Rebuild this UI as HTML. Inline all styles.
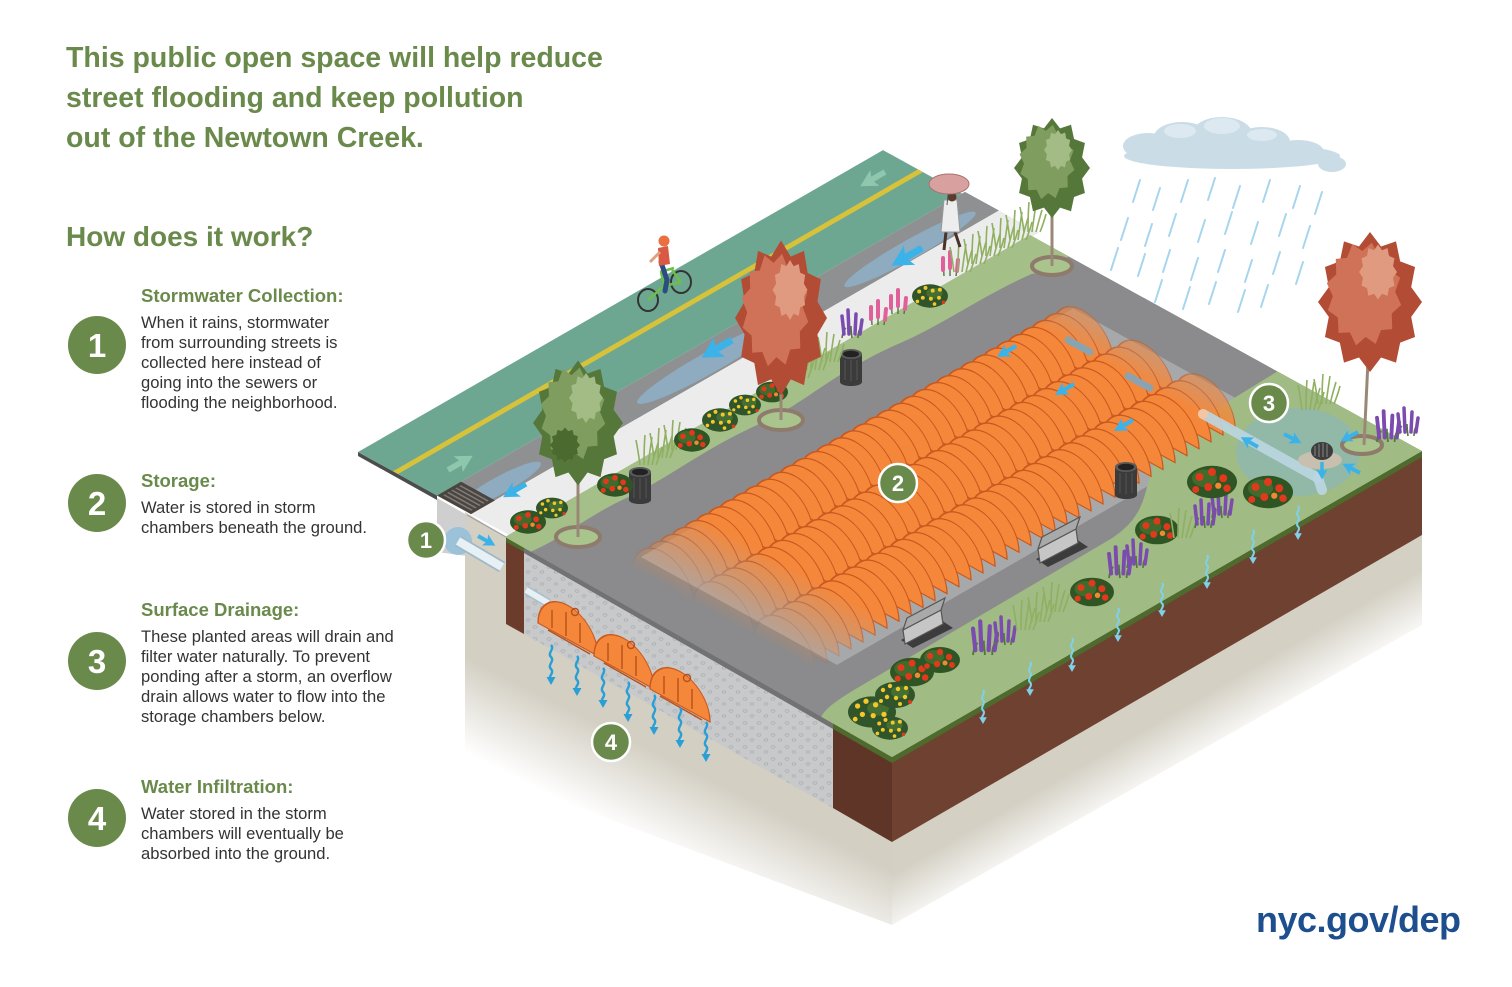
<!DOCTYPE html>
<html><head><meta charset="utf-8"><style>html,body{margin:0;padding:0;background:#fff}svg{display:block}</style></head>
<body>
<svg xmlns="http://www.w3.org/2000/svg" width="1512" height="987" viewBox="0 0 1512 987" font-family="'Liberation Sans', Arial, sans-serif">
<defs>
<linearGradient id="gl" gradientUnits="userSpaceOnUse" x1="680" y1="720" x2="600" y2="880"><stop offset="0" stop-color="#d3cfc3"/><stop offset="0.22" stop-color="#d3cfc3"/><stop offset="0.7" stop-color="#fff"/></linearGradient>
<linearGradient id="gf" gradientUnits="userSpaceOnUse" x1="1150" y1="690" x2="1195" y2="768"><stop offset="0" stop-color="#d4d0c4"/><stop offset="0.35" stop-color="#d4d0c4"/><stop offset="1" stop-color="#fff"/></linearGradient>
<linearGradient id="chg" gradientUnits="userSpaceOnUse" x1="388" y1="434.75" x2="606.6" y2="37.4"><stop offset="0" stop-color="#000"/><stop offset="0.174" stop-color="#fff"/><stop offset="0.9" stop-color="#fff"/><stop offset="1" stop-color="#5a5a5a"/></linearGradient>
<mask id="chm" maskUnits="userSpaceOnUse" x="0" y="0" width="1512" height="987"><rect width="1512" height="987" fill="url(#chg)"/></mask>
<clipPath id="blk"><polygon points="505,537 1030,235 1422,451 892,757"/></clipPath>
<pattern id="grv" width="14" height="12" patternUnits="userSpaceOnUse"><rect width="14" height="12" fill="#c8c9cb"/><ellipse cx="3" cy="3" rx="2" ry="1.3" fill="none" stroke="#b0b1b3" stroke-width=".8"/><ellipse cx="10" cy="8" rx="1.8" ry="1.2" fill="none" stroke="#b0b1b3" stroke-width=".8"/></pattern>
<path id="rib" d="M0,0 A30,34 0 0 1 60,0 Z" transform="matrix(1,0.55,0,1,0,0)" fill="#f5873a" stroke="#c9581f" stroke-width="1.3"/>
<path id="cn" d="M0,-50 L10.6,-39.6 L25,-43.3 L29,-29 L43.3,-25 L39.6,-10.6 L50,0 L39.6,10.6 L43.3,25 L29,29 L25,43.3 L10.6,39.6 L0,50 L-10.6,39.6 L-25,43.3 L-29,29 L-43.3,25 L-39.6,10.6 L-50,0 L-39.6,-10.6 L-43.3,-25 L-29,-29 L-25,-43.3 L-10.6,-39.6 Z"/>
<path id="ar" d="M0,-2.2 L11,-2.2 L9,-7 L22,0 L9,7 L11,2.2 L0,2.2 Z"/>
<g id="wv"><path d="M0,0 c4,4 -4,8 0,12 s-4,8 0,12 s-4,8 0,10" fill="none" stroke="currentColor" stroke-width="2.4"/><path d="M-4.5,32 L4.5,32 L0,40 Z" fill="currentColor"/></g>
<g id="rb"><ellipse rx="20" ry="13" fill="#2e5523"/><ellipse cx="-6" cy="-3" rx="10" ry="7" fill="#3f6b2c"/><circle cx="-10" cy="-4" r="3.2" fill="#e0391c"/><circle cx="0" cy="-8" r="3.2" fill="#e0391c"/><circle cx="9" cy="-3" r="3.2" fill="#e0391c"/><circle cx="-3" cy="4" r="3.2" fill="#e0391c"/><circle cx="12" cy="5" r="3" fill="#e0391c"/><circle cx="-13" cy="6" r="2.8" fill="#e0391c"/><circle cx="5" cy="3" r="2.5" fill="#f08a30"/></g>
<g id="yb"><ellipse rx="20" ry="13" fill="#30552a"/><ellipse cx="5" cy="-3" rx="9" ry="6" fill="#456f32"/><circle cx="-12" cy="-5" r="2.2" fill="#f4c82a"/><circle cx="-5" cy="-9" r="2.2" fill="#f4c82a"/><circle cx="3" cy="-6" r="2.2" fill="#f4c82a"/><circle cx="11" cy="-7" r="2.2" fill="#f4c82a"/><circle cx="-8" cy="2" r="2.2" fill="#f4c82a"/><circle cx="1" cy="3" r="2.2" fill="#f4c82a"/><circle cx="10" cy="2" r="2.2" fill="#f4c82a"/><circle cx="-14" cy="6" r="2" fill="#f4c82a"/><circle cx="5" cy="9" r="2" fill="#f4c82a"/><circle cx="15" cy="7" r="2" fill="#e0391c"/></g>
<g id="pp"><path d="M-10,0 Q-9,-8 -6,-10 M0,0 Q-1,-8 -1,-12 M6,0 Q6,-6 8,-9" stroke="#4f7a35" stroke-width="1.6" fill="none"/><path d="M-8,-4 L-10,-22 M-3,-4 L-4,-28 M3,-4 L4,-24 M8,-4 L10,-18" stroke="#7b4bb0" stroke-width="3.5" stroke-linecap="round"/></g>
<g id="pk"><path d="M-6,0 L-7,-18 M0,0 L0,-24 M6,0 L8,-16" stroke="#4f7a35" stroke-width="1.4"/><path d="M-7,-6 L-7,-18 M0,-8 L0,-24 M7,-5 L8,-16" stroke="#e0609a" stroke-width="4" stroke-linecap="round"/></g>
<g id="gr"><path d="M-8,0 Q-10,-15 -12,-25 M-4,0 Q-4,-18 -3,-30 M0,0 Q2,-15 4,-28 M4,0 Q7,-12 10,-22 M8,0 Q12,-10 14,-18" stroke="#8fb060" stroke-width="1.6" fill="none"/></g>
<g id="tc"><rect x="-11" y="-14" width="22" height="28" fill="#3b3b3b"/><ellipse cx="0" cy="14" rx="11" ry="4" fill="#3b3b3b"/><ellipse cx="0" cy="-14" rx="11" ry="5" fill="#5a5a5a"/><ellipse cx="0" cy="-14" rx="8" ry="3.3" fill="#222"/><path d="M-6,-8 V12 M0,-8 V13 M6,-8 V12" stroke="#555" stroke-width="1"/></g>
<g id="bn"><polygon points="-22,14 18,-6 30,2 -10,22" fill="#3c3c3c"/><polygon points="-20,4 18,-16 20,-2 -18,18" fill="#c6c6c6" stroke="#555" stroke-width="1.2"/><polygon points="-20,4 18,-16 22,-28 -16,-8" fill="#a9a9a9" stroke="#555" stroke-width="1.2"/></g>
<g id="row">
<use href="#rib" x="450" y="-258.75"/><use href="#rib" x="438" y="-251.85"/><use href="#rib" x="426" y="-244.95"/><use href="#rib" x="414" y="-238.05"/><use href="#rib" x="402" y="-231.15"/><use href="#rib" x="390" y="-224.25"/><use href="#rib" x="378" y="-217.35"/><use href="#rib" x="366" y="-210.45"/><use href="#rib" x="354" y="-203.55"/><use href="#rib" x="342" y="-196.65"/><use href="#rib" x="330" y="-189.75"/><use href="#rib" x="318" y="-182.85"/><use href="#rib" x="306" y="-175.95"/><use href="#rib" x="294" y="-169.05"/><use href="#rib" x="282" y="-162.15"/><use href="#rib" x="270" y="-155.25"/><use href="#rib" x="258" y="-148.35"/><use href="#rib" x="246" y="-141.45"/><use href="#rib" x="234" y="-134.55"/><use href="#rib" x="222" y="-127.65"/><use href="#rib" x="210" y="-120.75"/><use href="#rib" x="198" y="-113.85"/><use href="#rib" x="186" y="-106.95"/><use href="#rib" x="174" y="-100.05"/><use href="#rib" x="162" y="-93.15"/><use href="#rib" x="150" y="-86.25"/><use href="#rib" x="138" y="-79.35"/><use href="#rib" x="126" y="-72.45"/><use href="#rib" x="114" y="-65.55"/><use href="#rib" x="102" y="-58.65"/><use href="#rib" x="90" y="-51.75"/><use href="#rib" x="78" y="-44.85"/><use href="#rib" x="66" y="-37.95"/><use href="#rib" x="54" y="-31.05"/><use href="#rib" x="42" y="-24.15"/><use href="#rib" x="30" y="-17.25"/>
</g>
</defs>

<rect width="1512" height="987" fill="#fff"/>

<!-- LEFT TEXT -->
<g fill="#6a8a4c" font-weight="bold">
<text x="66" y="67" font-size="28.5">This public open space will help reduce</text>
<text x="66" y="107" font-size="28.5">street flooding and keep pollution</text>
<text x="66" y="147" font-size="28.5">out of the Newtown Creek.</text>
<text x="66" y="246" font-size="28">How does it work?</text>
<text x="141" y="302" font-size="18.5">Stormwater Collection:</text>
<text x="141" y="487" font-size="18.5">Storage:</text>
<text x="141" y="616" font-size="18.5">Surface Drainage:</text>
<text x="141" y="793" font-size="18.5">Water Infiltration:</text>
</g>
<g fill="#333" font-size="16.6">
<text x="141" y="328">When it rains, stormwater</text>
<text x="141" y="348">from surrounding streets is</text>
<text x="141" y="368">collected here instead of</text>
<text x="141" y="388">going into the sewers or</text>
<text x="141" y="408">flooding the neighborhood.</text>
<text x="141" y="513">Water is stored in storm</text>
<text x="141" y="533">chambers beneath the ground.</text>
<text x="141" y="642">These planted areas will drain and</text>
<text x="141" y="662">filter water naturally. To prevent</text>
<text x="141" y="682">ponding after a storm, an overflow</text>
<text x="141" y="702">drain allows water to flow into the</text>
<text x="141" y="722">storage chambers below.</text>
<text x="141" y="819">Water stored in the storm</text>
<text x="141" y="839">chambers will eventually be</text>
<text x="141" y="859">absorbed into the ground.</text>
</g>
<g fill="#6a8a4c"><circle cx="97" cy="345" r="29"/><circle cx="97" cy="503" r="29"/><circle cx="97" cy="661" r="29"/><circle cx="97" cy="818" r="29"/></g>
<g fill="#fff" font-size="33" font-weight="bold" text-anchor="middle">
<text x="97" y="357">1</text><text x="97" y="515">2</text><text x="97" y="673">3</text><text x="97" y="830">4</text>
</g>

<!-- VERTICAL FACES -->
<polygon points="465,512 506,537 892,757 892,925 465,765" fill="url(#gl)"/>
<polygon points="892,842 1422,535 1422,625 892,925" fill="url(#gf)"/>
<polygon points="437,498 467,515 467,556 437,552" fill="#cfcfd0"/>
<polygon points="358,452 437,495.5 437,500 358,456" fill="#4b4d4c"/>
<circle cx="458" cy="541" r="14" fill="#9cc2da"/>
<line x1="458" y1="541" x2="502" y2="567" stroke="#9fb8c6" stroke-width="12"/>
<line x1="458" y1="541" x2="502" y2="567" stroke="#e6f0f5" stroke-width="8.5"/>
<polygon points="506,541 524,551 524,634 506,624" fill="#6b3b2b"/>
<polygon points="506,537 524,547 524,552 506,542" fill="#4e6a2c"/>
<polygon points="524,552 833,728 833,808 524,634" fill="url(#grv)"/>
<polygon points="524,547 833,723 833,729 524,553" fill="#727274"/>
<polygon points="833,728 892,762 892,842 833,808" fill="#5f3527"/>
<polygon points="833,723 892,757 892,763 833,729" fill="#4e6a2c"/>
<polygon points="892,762 1422,456 1422,535 892,842" fill="#6f4131"/>
<polygon points="892,757 1422,451 1422,457 892,763" fill="#4e6a2c"/>
<line x1="526" y1="590" x2="548" y2="603" stroke="#a9bfcc" stroke-width="9"/>
<line x1="526" y1="590" x2="548" y2="603" stroke="#e6f0f5" stroke-width="6"/>
<!-- cross-section chambers -->
<use href="#rib" x="538" y="623"/><use href="#rib" x="594" y="656"/><use href="#rib" x="650" y="689"/>
<g stroke="#b84f18" stroke-width="1.4" fill="none">
<path d="M552,628 v-18 M566,636 v-24 M580,643 v-20 M548,630 l42,24"/>
<path d="M608,661 v-18 M622,669 v-24 M636,676 v-20 M604,663 l42,24"/>
<path d="M664,694 v-18 M678,702 v-24 M692,709 v-20 M660,696 l42,24"/>
<circle cx="575" cy="612" r="3.5"/><circle cx="631" cy="645" r="3.5"/><circle cx="687" cy="678" r="3.5"/>
</g>
<g style="color:#2a9fd6">
<use href="#wv" x="551" y="645"/><use href="#wv" x="577" y="656"/><use href="#wv" x="603" y="668"/><use href="#wv" x="628" y="682"/><use href="#wv" x="654" y="695"/><use href="#wv" x="680" y="708"/><use href="#wv" x="706" y="722"/>
</g>

<!-- STREET -->
<g transform="matrix(1,-0.575,1,0.55,358,452)">
<rect x="0" y="0" width="525" height="79" fill="#6da792"/>
<rect x="0" y="35" width="525" height="5" fill="#d8c23a"/>
<rect x="0" y="79" width="528" height="34" fill="#8f9092"/>
<ellipse cx="40" cy="102" rx="40" ry="9" fill="#8fb4cf" opacity=".75"/>
<ellipse cx="250" cy="100" rx="70" ry="11" fill="#8fb4cf" opacity=".75"/>
<ellipse cx="450" cy="102" rx="65" ry="10" fill="#8fb4cf" opacity=".75"/>
<rect x="0" y="113" width="528" height="40" fill="#ececec"/>
<rect x="0" y="79" width="24" height="34" fill="#4a4540"/>
<path d="M4,82 V110 M8,82 V110 M12,82 V110 M16,82 V110 M20,82 V110" stroke="#807a74" stroke-width="1.6"/>
</g>
<use href="#ar" transform="translate(448,470) rotate(-30) scale(1.3)" fill="#8fc6ae"/>
<use href="#ar" transform="translate(885,172) rotate(150) scale(1.3)" fill="#8fc6ae"/>
<line x1="467" y1="515" x2="506" y2="537" stroke="#a0a0a0" stroke-width="1.2"/>

<!-- BLOCK TOP -->
<g clip-path="url(#blk)">
<polygon points="505,537 1030,235 1422,451 892,757" fill="#8b8b8d"/>
<g transform="matrix(1,-0.575,1,0.55,358,452)">
<path d="M-10,148 L530,148 L530,178 C522,196 500,198 488,186 C440,180 400,186 360,180 C300,172 260,186 220,180 C170,174 130,182 90,178 C50,174 20,182 -10,176 Z" fill="#a5bf89"/>
<rect x="45" y="238" width="432" height="196" fill="#a7a8aa"/>
<path d="M-20,486 C-14,470 0,466 30,465 L290,462 C340,460 360,420 400,408 C420,402 440,400 470,400 L530,398 L530,560 L-20,560 Z" fill="#a0bb84"/>
</g>
<ellipse cx="1298" cy="452" rx="62" ry="44" fill="#86b8c6" opacity=".55"/>
</g>

<!-- CHAMBERS -->
<g mask="url(#chm)">
<use href="#row" transform="translate(603,586.75)"/>
<use href="#row" transform="translate(664,620.3)"/>
<use href="#row" transform="translate(725,653.85)"/>
</g>
<g stroke-linecap="round">
<line x1="1068" y1="340" x2="1090" y2="352" stroke="#8aa3b0" stroke-width="7"/>
<line x1="1128" y1="376" x2="1150" y2="388" stroke="#8aa3b0" stroke-width="7"/>
<line x1="1203" y1="414" x2="1318" y2="478" stroke="#bcd7e3" stroke-width="10" opacity=".9"/>
<line x1="1318" y1="478" x2="1322" y2="490" stroke="#bcd7e3" stroke-width="10" opacity=".9"/>
</g>
<circle cx="1203" cy="414" r="5" fill="#f2c6a5"/>
<ellipse cx="1320" cy="460" rx="22" ry="9" fill="#c9bfae"/>
<ellipse cx="1322" cy="451" rx="11" ry="9" fill="#3d3d3d"/>
<path d="M1315,446 v10 M1319,444 v13 M1323,443 v14 M1327,444 v13" stroke="#888" stroke-width="1"/>

<!-- TREE PITS, CANS, BENCHES -->
<g fill="#a9c48c" stroke="#8e7b6c" stroke-width="4">
<ellipse cx="578" cy="537" rx="22" ry="10"/><ellipse cx="781" cy="420" rx="22" ry="10"/><ellipse cx="1052" cy="266" rx="20" ry="9"/><ellipse cx="1362" cy="445" rx="20" ry="9"/>
</g>
<use href="#tc" x="640" y="486"/><use href="#tc" x="851" y="368"/><use href="#tc" x="1126" y="481"/>
<use href="#bn" x="1058" y="545"/><use href="#bn" x="923" y="626"/>

<!-- PLANTS back strip -->
<use href="#rb" transform="translate(528,522) scale(.9)"/>
<use href="#yb" transform="translate(552,508) scale(.8)"/>
<use href="#rb" transform="translate(615,485) scale(.9)"/>
<use href="#gr" x="648" y="465"/><use href="#gr" x="662" y="458"/><use href="#gr" x="676" y="450"/>
<use href="#rb" transform="translate(692,440) scale(.9)"/>
<use href="#yb" transform="translate(720,420) scale(.9)"/>
<use href="#yb" transform="translate(745,405) scale(.8)"/>
<use href="#rb" transform="translate(772,392) scale(.8)"/>
<use href="#gr" x="800" y="378"/><use href="#gr" x="815" y="370"/><use href="#gr" x="830" y="362"/>
<use href="#pp" x="852" y="338"/>
<use href="#pk" x="878" y="325"/><use href="#pk" x="898" y="314"/>
<use href="#yb" transform="translate(930,296) scale(.9)"/>
<use href="#pk" x="950" y="276"/>
<use href="#gr" x="962" y="272"/><use href="#gr" x="976" y="264"/><use href="#gr" x="990" y="256"/><use href="#gr" x="1004" y="248"/><use href="#gr" x="1018" y="240"/><use href="#gr" x="1032" y="232"/>
<!-- PLANTS front -->
<use href="#yb" transform="translate(872,712) scale(1.2)"/>
<use href="#yb" transform="translate(895,695) scale(1)"/>
<use href="#rb" transform="translate(912,672) scale(1.1)"/>
<use href="#rb" transform="translate(940,660) scale(1)"/>
<use href="#yb" transform="translate(890,728) scale(.9)"/>
<use href="#pp" transform="translate(985,655) scale(1.2)"/>
<use href="#pp" transform="translate(1005,645)"/>
<use href="#gr" x="1025" y="630"/><use href="#gr" x="1040" y="622"/><use href="#gr" x="1055" y="612"/>
<use href="#rb" transform="translate(1092,592) scale(1.1)"/>
<use href="#pp" transform="translate(1120,578) scale(1.1)"/>
<use href="#pp" x="1137" y="568"/>
<use href="#rb" transform="translate(1157,530) scale(1.1)"/>
<use href="#gr" x="1182" y="538"/>
<use href="#pp" x="1205" y="528"/><use href="#pp" x="1222" y="518"/>
<use href="#rb" transform="translate(1212,482) scale(1.25)"/>
<use href="#rb" transform="translate(1268,492) scale(1.25)"/>
<use href="#gr" x="1310" y="410"/><use href="#gr" x="1326" y="404"/>
<use href="#pp" transform="translate(1388,442) scale(1.1)"/>
<use href="#pp" x="1408" y="436"/>
<g style="color:#7fd0e8">
<use href="#wv" transform="translate(983,690) scale(.85)"/><use href="#wv" transform="translate(1030,662) scale(.85)"/><use href="#wv" transform="translate(1072,638) scale(.85)"/><use href="#wv" transform="translate(1118,608) scale(.85)"/><use href="#wv" transform="translate(1162,583) scale(.85)"/><use href="#wv" transform="translate(1207,555) scale(.85)"/><use href="#wv" transform="translate(1253,530) scale(.85)"/><use href="#wv" transform="translate(1298,506) scale(.85)"/>
</g>

<!-- TREES -->
<g stroke="#9a8877" stroke-width="3" fill="none">
<line x1="578" y1="450" x2="578" y2="537"/><line x1="781" y1="360" x2="781" y2="420"/><line x1="1052" y1="200" x2="1052" y2="266"/><line x1="1369" y1="340" x2="1364" y2="445"/>
</g>
<use href="#cn" transform="translate(578,423) scale(.9,1.25)" fill="#56773a"/>
<use href="#cn" transform="translate(573,414) scale(.66,.95) rotate(12)" fill="#7f9d5e"/>
<use href="#cn" transform="translate(586,398) scale(.34,.5)" fill="#a3bb85"/>
<use href="#cn" transform="translate(565,445) scale(.3,.35)" fill="#4a6a30"/>
<use href="#cn" transform="translate(781,318) scale(.92,1.55)" fill="#b34c34"/>
<use href="#cn" transform="translate(775,310) scale(.68,1.15) rotate(12)" fill="#cf7257"/>
<use href="#cn" transform="translate(790,290) scale(.35,.6)" fill="#e09a80"/>
<use href="#cn" transform="translate(1052,168) scale(.76,1)" fill="#56773a"/>
<use href="#cn" transform="translate(1047,162) scale(.56,.76) rotate(12)" fill="#7f9d5e"/>
<use href="#cn" transform="translate(1058,150) scale(.28,.4)" fill="#a3bb85"/>
<use href="#cn" transform="translate(1370,302) scale(1.04,1.4)" fill="#b34c34"/>
<use href="#cn" transform="translate(1364,294) scale(.76,1.05) rotate(12)" fill="#cf7257"/>
<use href="#cn" transform="translate(1378,272) scale(.38,.55)" fill="#e09a80"/>

<!-- CYCLIST -->
<ellipse cx="648" cy="300" rx="10" ry="11" fill="none" stroke="#333" stroke-width="2"/>
<ellipse cx="681" cy="282" rx="10" ry="11" fill="none" stroke="#333" stroke-width="2"/>
<path d="M648,300 L664,286 L681,282 M664,286 L661,272 M672,270 L681,282 M660,272 L674,268" stroke="#6cbf4a" stroke-width="2.5" fill="none"/>
<path d="M661,262 L667,280 L665,291" stroke="#2c4c84" stroke-width="5" fill="none" stroke-linecap="round"/>
<path d="M658,248 L668,246 L670,264 L659,266 Z" fill="#d85a45"/>
<path d="M660,252 L650,262" stroke="#e2a17c" stroke-width="3"/>
<circle cx="664" cy="241" r="5.5" fill="#e8713f"/>
<!-- PEDESTRIAN -->
<path d="M946,232 L944,250 M955,232 L960,247" stroke="#4a3328" stroke-width="3"/>
<path d="M944,200 L957,200 L960,232 L941,232 Z" fill="#ededed" stroke="#999"/>
<circle cx="952" cy="197" r="4.5" fill="#5a3c2c"/>
<line x1="949" y1="184" x2="947" y2="205" stroke="#555"/>
<ellipse cx="949" cy="184" rx="20" ry="10" fill="#d8a19f" stroke="#a8716f" stroke-width="1"/>

<!-- CLOUD & RAIN -->
<g fill="#cadce6">
<ellipse cx="1232" cy="156" rx="108" ry="13"/>
<ellipse cx="1148" cy="146" rx="25" ry="13"/><ellipse cx="1182" cy="137" rx="28" ry="15"/><ellipse cx="1222" cy="134" rx="30" ry="17"/><ellipse cx="1262" cy="142" rx="28" ry="15"/><ellipse cx="1298" cy="152" rx="26" ry="12"/><ellipse cx="1332" cy="164" rx="14" ry="8"/>
</g>
<g fill="#dde9f0"><ellipse cx="1180" cy="131" rx="16" ry="7"/><ellipse cx="1222" cy="126" rx="18" ry="8"/><ellipse cx="1262" cy="135" rx="15" ry="6"/></g>
<g stroke="#a6d5ee" stroke-width="2" stroke-linecap="round">
<path d="M1140,180 l-7,22 M1160,188 l-7,22 M1188,180 l-7,22 M1215,178 l-7,22 M1240,186 l-7,22 M1270,180 l-7,22 M1300,186 l-7,22 M1322,192 l-7,22"/>
<path d="M1128,218 l-7,22 M1152,224 l-7,22 M1176,214 l-7,22 M1205,220 l-7,22 M1232,212 l-7,22 M1258,222 l-7,22 M1286,214 l-7,22 M1310,226 l-7,22"/>
<path d="M1118,248 l-7,22 M1145,254 l-7,22 M1170,250 l-7,22 M1198,258 l-7,22 M1225,250 l-7,22 M1252,260 l-7,22 M1280,252 l-7,22 M1303,262 l-7,22"/>
<path d="M1162,280 l-7,22 M1190,287 l-7,22 M1216,282 l-7,22 M1245,290 l-7,22 M1268,285 l-7,22"/>
</g>

<!-- BLUE ARROWS -->
<g fill="#3cb3e8">
<use href="#ar" transform="translate(526,484) rotate(150) scale(1.2)"/>
<use href="#ar" transform="translate(732,340) rotate(150) scale(1.6)"/>
<use href="#ar" transform="translate(922,248) rotate(150) scale(1.6)"/>
<use href="#ar" transform="translate(1016,346) rotate(150)"/>
<use href="#ar" transform="translate(1074,384) rotate(150)"/>
<use href="#ar" transform="translate(1133,420) rotate(150)"/>
<use href="#ar" transform="translate(478,536) rotate(29) scale(.9)"/>
<use href="#ar" transform="translate(1258,447) rotate(210) scale(.9)"/>
<use href="#ar" transform="translate(1284,434) rotate(28) scale(.9)"/>
<use href="#ar" transform="translate(1358,432) rotate(152) scale(.9)"/>
<use href="#ar" transform="translate(1360,473) rotate(208) scale(.9)"/>
<use href="#ar" transform="translate(1322,462) rotate(90) scale(.8)"/>
</g>

<!-- NUMBER LABELS -->
<g fill="#6a8a4c" stroke="#fff" stroke-width="2.5">
<circle cx="426" cy="540" r="19"/><circle cx="898" cy="483" r="19"/><circle cx="1269" cy="403" r="19"/><circle cx="611" cy="742" r="19"/>
</g>
<g fill="#fff" font-size="22" font-weight="bold" text-anchor="middle">
<text x="426" y="548">1</text><text x="898" y="491">2</text><text x="1269" y="411">3</text><text x="611" y="750">4</text>
</g>

<text x="1256" y="932" font-size="36" font-weight="bold" fill="#1d4f8f" letter-spacing="-0.5">nyc.gov/dep</text>
</svg>
</body></html>
